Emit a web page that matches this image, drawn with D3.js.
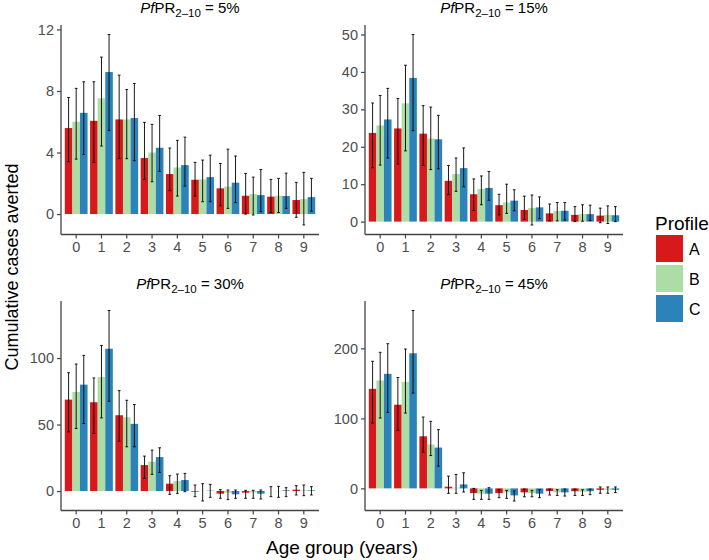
<!DOCTYPE html>
<html>
<head>
<meta charset="utf-8">
<script src="https://cdn.jsdelivr.net/npm/d3@7"></script>
<style>
  body { margin: 0; background: #fff; }
  svg text { font-family: "Liberation Sans", Arial, Helvetica, sans-serif; }
</style>
</head>
<body>
<div class="container"></div>
<script>
// Age groups and profiles
const ages = ["0", "1", "2", "3", "4", "5", "6", "7", "8", "9"];
const profiles = ["A", "B", "C"];
const colors = ["#d7191c", "#abdda4", "#2b83ba"];
const prevalences = ["5%", "15%", "30%", "45%"];

// PfPR = 5%  (rows: A, B, C)
const mean5 = [
  [5.59, 6.06, 6.15, 3.64, 2.6, 2.23, 1.67, 1.19, 1.13, 0.91],
  [6.0, 7.52, 6.15, 4.0, 3.03, 2.25, 1.78, 1.3, 1.19, 0.97],
  [6.58, 9.23, 6.24, 4.31, 3.18, 2.4, 2.04, 1.23, 1.17, 1.1]
];
const lo5 = [
  [3.4, 3.36, 3.6, 2.25, 1.52, 1.17, 0.54, 0.0, 0.1, -0.21],
  [3.57, 4.42, 3.6, 2.1, 1.17, 0.8, 0.37, -0.06, 0.1, -0.71],
  [3.88, 5.44, 3.47, 2.77, 1.82, 0.8, 0.74, 0.15, 0.37, 0.19]
];
const hi5 = [
  [7.58, 8.6, 9.03, 5.96, 4.29, 3.36, 3.29, 2.64, 2.25, 2.06],
  [8.17, 10.2, 8.1, 5.83, 4.79, 3.51, 4.22, 2.4, 2.32, 2.71],
  [8.6, 11.67, 8.49, 6.41, 5.0, 3.83, 3.77, 2.9, 2.66, 2.32]
];

// PfPR = 15%
const mean15 = [
  [23.7, 24.9, 23.5, 10.9, 7.3, 4.4, 3.1, 2.2, 1.8, 1.6],
  [25.7, 31.6, 22.2, 12.7, 8.7, 5.1, 3.6, 2.8, 2.0, 1.8],
  [27.3, 38.4, 22.0, 14.3, 9.0, 5.6, 3.8, 2.9, 2.0, 1.7]
];
const lo15 = [
  [14.4, 15.4, 15.0, 7.2, 3.0, 1.8, 0.6, 0.2, 0.0, -0.3],
  [15.1, 18.9, 13.9, 8.1, 4.5, 2.2, -0.9, 0.2, 0.1, -0.5],
  [17.0, 24.3, 14.1, 9.3, 5.7, 2.9, 0.8, 0.4, 0.3, 0.0]
];
const hi15 = [
  [31.7, 32.9, 31.0, 15.0, 11.4, 7.3, 6.8, 4.7, 4.0, 3.6],
  [33.7, 41.8, 30.6, 17.0, 12.2, 10.0, 7.1, 5.1, 4.5, 4.2],
  [35.6, 50.0, 28.4, 19.7, 13.4, 8.5, 6.6, 5.1, 4.4, 4.0]
];

// PfPR = 30%
const mean30 = [
  [68.75, 66.75, 57, 19.5, 5.5, -0.5, -2, -1.25, 0, 1],
  [74.5, 85.75, 55.5, 22, 7.5, 0, -1.25, -1, -0.25, 0.5],
  [80, 107, 50.5, 25.5, 8.25, 0.25, -2.5, -2, 0.5, 0.5]
];
const lo30 = [
  [44.5, 43.25, 37.5, 9.5, -2.5, -4.25, -5.5, -5.5, -4.25, -3],
  [47, 55, 33.25, 12.5, -1.75, -7.5, -6.5, -5.5, -4.75, -3.5],
  [50.75, 67.5, 33.25, 14, -0.5, -4.75, -5.5, -6, -4.25, -3]
];
const hi30 = [
  [89, 85, 75.5, 26.25, 11.5, 4.5, 1, 0.5, 3.25, 4],
  [95.5, 109.5, 68.25, 30.75, 12.75, 5.5, 0.75, 0.5, 3.5, 4.5],
  [102, 135.75, 65, 32.5, 13.25, 5, 0.75, 0.75, 2.5, 3.25]
];

// PfPR = 45%
const mean45 = [
  [142.2, 119.5, 74.4, 2.4, -6.7, -6.7, -5.7, -3.8, -4, -2],
  [154.1, 152.2, 62.6, 1, -7.6, -5.7, -6.7, -5.7, -5, -2],
  [163.6, 193, 58.3, 5.7, -7.6, -10, -7.6, -5.7, -4, -2]
];
const lo45 = [
  [93.4, 83, 51.7, -7.1, -15.7, -13.3, -12, -9.5, -10, -7],
  [100.5, 107.6, 46.9, -7.1, -15.7, -14.3, -12, -10, -10, -7],
  [108.6, 136.1, 31.8, -5.2, -15.7, -18, -13.3, -11, -9, -6]
];
const hi45 = [
  [181.6, 158.4, 101.9, 17.5, 0, -1.4, -1, -1, -1, 2],
  [194.4, 199.1, 95.8, 19.9, -2.9, -2.9, -2.9, -1.9, -2, 2],
  [206.7, 254.1, 83.9, 22.3, 1, -3.8, -1.9, -1, -1, 2]
];

const yTicks5 = [0, 4, 8, 12];
const yTicks15 = [0, 10, 20, 30, 40, 50];
const yTicks30 = [0, 50, 100];
const yTicks45 = [0, 100, 200];

const panels = [
  { mean: mean5, lo: lo5, hi: hi5, ticks: yTicks5, label: prevalences[0] },
  { mean: mean15, lo: lo15, hi: hi15, ticks: yTicks15, label: prevalences[1] },
  { mean: mean30, lo: lo30, hi: hi30, ticks: yTicks30, label: prevalences[2] },
  { mean: mean45, lo: lo45, hi: hi45, ticks: yTicks45, label: prevalences[3] }
];

const width = 709;
const height = 560;
const colX = [61, 365];
const rowY = [25, 301];
const pw = 258;
const ph = 209.5;
const axisColor = "#444";
const textColor = "#4d4d4d";

const svg = d3
  .select(".container")
  .append("svg")
  .attr("width", width)
  .attr("height", height);

panels.forEach((p, i) => {
  const x0 = colX[i % 2];
  const y0 = rowY[Math.floor(i / 2)];
  const g = svg.append("g").attr("transform", "translate(" + x0 + "," + y0 + ")");

  // x: discrete band scale with ggplot-like 0.6 expansion
  const step = pw / (ages.length + 0.2);
  const xScale = d3
    .scaleBand()
    .domain(ages)
    .range([0.1 * step, pw - 0.1 * step])
    .paddingInner(0.1)
    .paddingOuter(0.05);
  const xSub = d3.scaleBand().domain(profiles).range([0, xScale.bandwidth()]);

  // y: continuous with 5% expansion
  const allVals = [0].concat(p.lo.flat(), p.hi.flat(), p.mean.flat());
  const [mn, mx] = d3.extent(allVals);
  const pad = (mx - mn) * 0.05;
  const yScale = d3.scaleLinear().domain([mn - pad, mx + pad]).range([ph, 0]);

  // Bars
  profiles.forEach((prof, j) => {
    g.append("g")
      .selectAll("rect")
      .data(p.mean[j])
      .enter()
      .append("rect")
      .attr("x", (d, k) => xScale(ages[k]) + xSub(prof))
      .attr("width", xSub.bandwidth())
      .attr("y", (d) => yScale(Math.max(0, d)))
      .attr("height", (d) => Math.abs(yScale(d) - yScale(0)))
      .attr("fill", colors[j]);
  });

  // Error bars
  const capW = xSub.bandwidth() * 0.18;
  profiles.forEach((prof, j) => {
    const eg = g.append("g").attr("stroke", "#000").attr("stroke-width", 0.9);
    p.mean[j].forEach((d, k) => {
      const cx = xScale(ages[k]) + xSub(prof) + xSub.bandwidth() / 2;
      const yl = yScale(p.lo[j][k]);
      const yh = yScale(p.hi[j][k]);
      eg.append("line").attr("x1", cx).attr("x2", cx).attr("y1", yl).attr("y2", yh);
      eg.append("line").attr("x1", cx - capW).attr("x2", cx + capW).attr("y1", yl).attr("y2", yl);
      eg.append("line").attr("x1", cx - capW).attr("x2", cx + capW).attr("y1", yh).attr("y2", yh);
    });
  });

  // Axes
  const xAxis = d3.axisBottom(xScale).tickSize(4).tickPadding(3).tickSizeOuter(0);
  const gx = g.append("g").attr("transform", "translate(0," + ph + ")").call(xAxis);
  gx.select(".domain").attr("d", "M0,0H" + pw);

  const yAxis = d3.axisLeft(yScale).tickValues(p.ticks).tickSize(4).tickPadding(3).tickSizeOuter(0);
  const gy = g.append("g").call(yAxis);
  gy.select(".domain").attr("d", "M0,0V" + ph);

  [gx, gy].forEach((a) => {
    a.selectAll(".domain").attr("stroke", axisColor).attr("stroke-width", 1.3);
    a.selectAll(".tick line").attr("stroke", axisColor).attr("stroke-width", 1.2);
    a.selectAll(".tick text").attr("fill", textColor).style("font-size", "14.5px");
  });

  // Panel title
  const title = svg
    .append("text")
    .attr("x", x0 + pw / 2)
    .attr("y", y0 - 12)
    .attr("text-anchor", "middle")
    .attr("fill", "#000")
    .style("font-size", "15px");
  title.append("tspan").attr("font-style", "italic").text("Pf");
  title.append("tspan").text("PR");
  title.append("tspan").attr("dy", 4).style("font-size", "11.5px").text("2\u201310");
  title.append("tspan").attr("dy", -4).text(" = " + p.label);
});

// Axis titles
svg
  .append("text")
  .attr("x", (colX[0] + colX[1] + pw) / 2)
  .attr("y", 554)
  .attr("text-anchor", "middle")
  .style("font-size", "19px")
  .text("Age group (years)");

svg
  .append("text")
  .attr("transform", "translate(18," + 267 + ") rotate(-90)")
  .attr("text-anchor", "middle")
  .style("font-size", "18px")
  .text("Cumulative cases averted");

// Legend
const legend = svg.append("g").attr("transform", "translate(655,234)");
legend.append("text").attr("x", 0).attr("y", -4).style("font-size", "19px").text("Profile");
profiles.forEach((prof, j) => {
  legend
    .append("rect")
    .attr("x", 1)
    .attr("y", 1 + j * 30)
    .attr("width", 27)
    .attr("height", 27)
    .attr("fill", colors[j]);
  legend
    .append("text")
    .attr("x", 34)
    .attr("y", 1 + j * 30 + 20)
    .style("font-size", "16px")
    .text(prof);
});
</script>
</body>
</html>
